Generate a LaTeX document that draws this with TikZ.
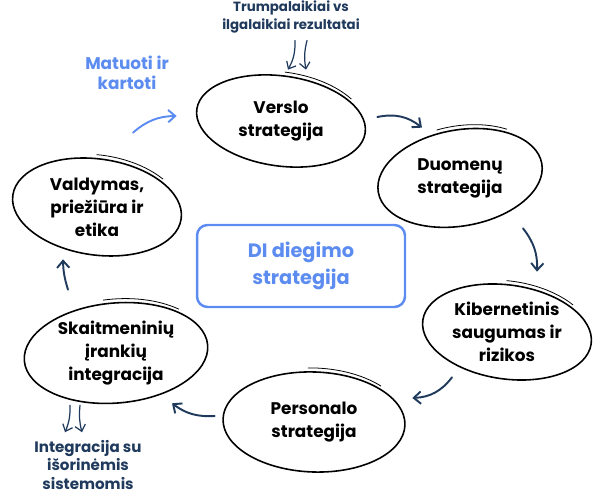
\documentclass[tikz,border=0pt]{standalone}
\usepackage{fontspec}
\setmainfont{Poppins}
\usetikzlibrary{shapes.geometric,arrows.meta}
\definecolor{navy}{RGB}{31,58,92}
\definecolor{skyblue}{RGB}{92,140,240}

\begin{document}
\begin{tikzpicture}[x=0.02cm,y=0.02cm,
    phase/.style={shape=ellipse,inner sep=0pt,align=center,font=\fontsize{9.6}{13}\selectfont\bfseries},
    rim/.style={draw=black,line width=0.9pt},
    flick/.style={draw=black,line width=0.45pt},
    note/.style={inner sep=0pt,align=center,text=navy,font=\fontsize{7.6}{10.2}\selectfont\bfseries},
    flow/.style={-{Straight Barb[length=4pt,width=7pt]},line width=1.1pt,line cap=round,navy},
    thinflow/.style={-{Straight Barb[length=3.5pt,width=6pt]},line width=0.7pt,line cap=round,navy}]
	\useasboundingbox (0,0) rectangle (606,496);

	\node[phase,minimum width=3.4cm,minimum height=1.8cm] (verslo) at (281,375) {Verslo\\strategija};
	\node[phase,minimum width=3.32cm,minimum height=1.92cm] (duomenys) at (460,318) {Duomenų\\strategija};
	\node[phase,minimum width=3.4cm,minimum height=1.88cm] (kiber) at (507,164) {Kibernetinis\\saugumas ir\\rizikos};
	\node[phase,minimum width=3.64cm,minimum height=2cm] (personalas) at (314,74) {Personalo\\strategija};
	\node[phase,minimum width=3.68cm,minimum height=2cm] (irankiai) at (116,143) {Skaitmeninių\\įrankių\\integracija};
	\node[phase,minimum width=3.4cm,minimum height=1.92cm] (valdymas) at (97,289) {Valdymas,\\priežiūra ir\\etika};

	\node[draw=skyblue,line width=1.4pt,rounded corners=6pt,minimum width=4.16cm,minimum height=1.64cm,
	      align=center,text=skyblue,font=\fontsize{11}{15.5}\selectfont\bfseries] (kernel) at (301,230) {DI diegimo\\strategija};

	\node[note] (trump) at (291,479) {Trumpalaikiai vs\\ilgalaikiai rezultatai};
	\node[note,font=\fontsize{8.6}{10.4}\selectfont\bfseries] (isorines) at (88,31) {Integracija su\\išorinėmis\\sistemomis};
	\node[note,text=skyblue,font=\fontsize{9.6}{11.4}\selectfont\bfseries] (matuoti) at (127,423) {Matuoti ir\\kartoti};

	%% outlines
	\draw[rim,rotate around={-8:(verslo.center)}] (verslo.center) ellipse [x radius=85,y radius=45];
	\draw[flick,rotate around={-8:(verslo.center)}] ([shift={(92:87 and 49)}]verslo.center) arc [start angle=92,end angle=40,x radius=87,y radius=49];
	\draw[rim,rotate around={10:(duomenys.center)}] (duomenys.center) ellipse [x radius=83,y radius=48];
	\draw[flick,rotate around={10:(duomenys.center)}] ([shift={(100:85 and 52)}]duomenys.center) arc [start angle=100,end angle=50,x radius=85,y radius=52];
	\draw[rim,rotate around={-8:(kiber.center)}] (kiber.center) ellipse [x radius=85,y radius=47];
	\draw[flick,rotate around={-8:(kiber.center)}] ([shift={(95:87 and 51)}]kiber.center) arc [start angle=95,end angle=45,x radius=87,y radius=51];
	\draw[rim,rotate around={-2:(personalas.center)}] (personalas.center) ellipse [x radius=91,y radius=50];
	\draw[flick,rotate around={-2:(personalas.center)}] ([shift={(95:93 and 54)}]personalas.center) arc [start angle=95,end angle=45,x radius=93,y radius=54];
	\draw[rim,rotate around={5:(irankiai.center)}] (irankiai.center) ellipse [x radius=92,y radius=50];
	\draw[flick,rotate around={5:(irankiai.center)}] ([shift={(95:94 and 54)}]irankiai.center) arc [start angle=95,end angle=45,x radius=94,y radius=54];
	\draw[rim,rotate around={-8:(valdymas.center)}] (valdymas.center) ellipse [x radius=85,y radius=48];
	\draw[flick,rotate around={-8:(valdymas.center)}] ([shift={(95:87 and 52)}]valdymas.center) arc [start angle=95,end angle=45,x radius=87,y radius=52];

	%% arrows
	\draw[flow] ([shift={(11,4)}]verslo.east) to[bend left=25] ([shift={(-38,2)}]duomenys.north);
	\draw[flow] ([shift={(63,-2)}]duomenys.south) to[bend left=20] ([shift={(30,13)}]kiber.north);
	\draw[flow] ([shift={(-55,2)}]kiber.south) to[bend left=25] ([shift={(7,24)}]personalas.east);
	\draw[flow] ([shift={(-8,6)}]personalas.west) to[bend left=20] ([shift={(56,0)}]irankiai.south);
	\draw[flow] ([shift={(-48,13)}]irankiai.north) to[bend left=8] ([shift={(-34,-4)}]valdymas.south);
	\draw[flow,skyblue] ([shift={(36,26)}]valdymas.north) to[bend left=20] ([shift={(-19,5)}]verslo.west);

	\draw[thinflow] ([shift={(4,-7)}]trump.south) to[bend left=15] ([shift={(7,6)}]verslo.north);
	\draw[thinflow] ([shift={(16,-7)}]trump.south) to[bend right=12] ([shift={(25,6)}]verslo.north);
	\draw[thinflow] ([shift={(-46,-2)}]irankiai.south) to[bend left=12] ([shift={(-23,8)}]isorines.north);
	\draw[thinflow] ([shift={(-36,-2)}]irankiai.south) to[bend right=10] ([shift={(-6,8)}]isorines.north);
\end{tikzpicture}
\end{document}
